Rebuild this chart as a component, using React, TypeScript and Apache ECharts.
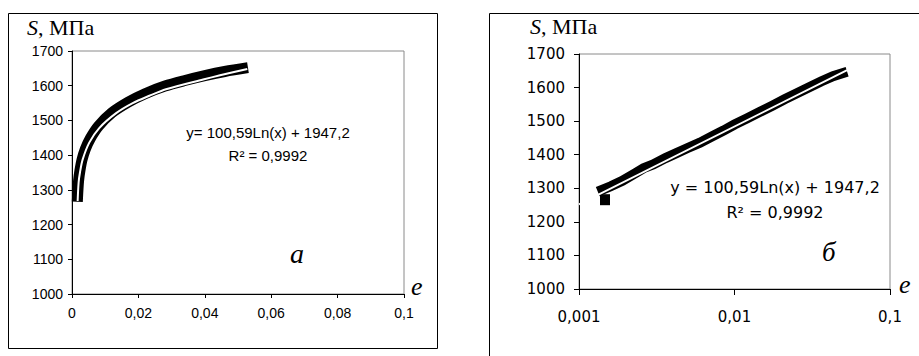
import { useEffect, useRef } from 'react';
import * as echarts from 'echarts';

// ---- data ----
const yMin = 1000;
const yMax = 1700;
const yStep = 100;

const xTicksA = ['0', '0,02', '0,04', '0,06', '0,08', '0,1'];
const xTicksB = ['0,001', '0,01', '0,1'];

// panel а: measured curve (black band)
const strainA = [0.0016, 0.0018, 0.002, 0.0024, 0.003, 0.004, 0.0055, 0.008, 0.012, 0.017, 0.022, 0.028, 0.034, 0.04, 0.046, 0.053];
const stressA = [1266, 1302, 1328, 1356, 1386, 1417, 1448, 1484, 1522, 1553, 1577, 1599, 1615, 1629, 1641, 1652];
// panel а: trend line (white)
const trendStrainA = [0.0017, 0.002, 0.0024, 0.0032, 0.0052, 0.0082, 0.0133, 0.0183, 0.0233, 0.0283, 0.0395, 0.0446, 0.0528];
const trendStressA = [1268, 1322, 1350, 1387, 1436, 1478, 1521, 1550, 1571, 1590, 1618, 1630, 1648];

// panel б: measured curve (black band), log strain axis
const strainB = [0.00132, 0.0016, 0.0019, 0.0023, 0.0026, 0.003, 0.0036, 0.0042, 0.005, 0.006, 0.0072, 0.0085, 0.01, 0.012, 0.0145, 0.0175, 0.021, 0.025, 0.03, 0.036, 0.043, 0.053];
const stressB = [1290, 1306, 1322, 1345, 1360, 1371, 1390, 1404, 1420, 1436, 1455, 1472, 1490, 1508, 1527, 1546, 1565, 1582, 1600, 1618, 1634, 1647];
const outlierStrainB = [0.00147];
const outlierStressB = [1266];
// panel б: trend line (white)
const trendStrainB = [0.001, 0.053];
const trendStressB = [1252, 1652];

const yTitle = 'МПа';
const eqA = 'y= 100,59Ln(x) + 1947,2';
const eqB = 'y = 100,59Ln(x) + 1947,2';
const r2 = 'R² = 0,9992';

const zip = (xs: number[], ys: number[]) => xs.map((x, i) => [x, ys[i]]);

export default function App() {
  const ref = useRef<HTMLDivElement>(null);
  useEffect(() => {
    if (!ref.current) return;
    const chart = echarts.init(ref.current, null, { renderer: 'svg' });
    const sans = 'Liberation Sans';
    const wide = 'DejaVu Sans';
    const serif = 'Liberation Serif';
    const axisBase = (tick: number) => ({
      axisLine: { show: true, onZero: false, lineStyle: { color: '#000', width: 1 } },
      axisTick: { show: true, inside: false, length: tick, lineStyle: { color: '#000', width: 1 } },
      splitLine: { show: false },
      minorTick: { show: false },
      minorSplitLine: { show: false },
    });
    const title = (x: number, y: number) => ({
      type: 'text',
      x,
      y,
      style: {
        text: '{i|S}, ' + yTitle,
        rich: {
          i: { fontStyle: 'italic', fontFamily: serif, fontSize: 22, fill: '#000' },
        },
        fontFamily: serif,
        fontSize: 22,
        fill: '#000',
        align: 'left',
        verticalAlign: 'middle',
      },
    });
    const italic = (t: string, x: number, y: number, size: number) => ({
      type: 'text',
      x,
      y,
      style: { text: t, fontFamily: serif, fontStyle: 'italic', fontSize: size, fill: '#000', align: 'left', verticalAlign: 'middle' },
    });
    const plain = (t: string, x: number, y: number, font: string, size: number) => ({
      type: 'text',
      x,
      y,
      style: { text: t, fontFamily: font, fontSize: size, fill: '#000', align: 'center', verticalAlign: 'middle' },
    });

    chart.setOption({
      animation: false,
      backgroundColor: '#fff',
      grid: [
        { left: 72, top: 51, width: 332, height: 243, show: true, borderColor: '#8a8a8a', borderWidth: 1, backgroundColor: 'transparent', containLabel: false },
        { left: 579, top: 54, width: 311, height: 235, show: true, borderColor: '#8a8a8a', borderWidth: 1, backgroundColor: 'transparent', containLabel: false },
      ],
      xAxis: [
        {
          gridIndex: 0, type: 'value', min: 0, max: 0.1, interval: 0.02,
          ...axisBase(4),
          axisLabel: { color: '#000', fontFamily: sans, fontSize: 14, margin: 12, formatter: (v: number) => xTicksA[Math.round(v / 0.02)] },
        },
        {
          gridIndex: 1, type: 'log', logBase: 10, min: 0.001, max: 0.1,
          ...axisBase(6),
          axisLabel: { color: '#000', fontFamily: wide, fontSize: 15, margin: 20, formatter: (v: number) => xTicksB[Math.round(Math.log10(v)) + 3] },
        },
      ],
      yAxis: [
        {
          gridIndex: 0, type: 'value', min: yMin, max: yMax, interval: yStep, ...axisBase(4),
          axisLabel: { color: '#000', fontFamily: sans, fontSize: 14, margin: 9, formatter: (v: number) => String(v) },
        },
        {
          gridIndex: 1, type: 'value', min: yMin, max: yMax, interval: yStep, ...axisBase(5),
          axisLabel: { color: '#000', fontFamily: wide, fontSize: 15, margin: 14, formatter: (v: number) => String(v) },
        },
      ],
      series: [
        {
          type: 'line', xAxisIndex: 0, yAxisIndex: 0, data: zip(strainA, stressA), symbol: 'none', smooth: 0.3,
          lineStyle: { color: '#000', width: 11, cap: 'butt', join: 'round' }, z: 3,
        },
        {
          type: 'line', xAxisIndex: 0, yAxisIndex: 0, data: zip(trendStrainA, trendStressA), symbol: 'none', smooth: 0.3,
          lineStyle: { color: '#fff', width: 2 }, z: 4,
        },
        {
          type: 'line', xAxisIndex: 1, yAxisIndex: 1, data: zip(strainB, stressB), symbol: 'none',
          lineStyle: { color: '#000', width: 10, cap: 'butt', join: 'miter' }, z: 3,
        },
        {
          type: 'scatter', xAxisIndex: 1, yAxisIndex: 1, data: zip(outlierStrainB, outlierStressB), symbol: 'rect', symbolSize: [10, 11],
          itemStyle: { color: '#000', opacity: 1 }, z: 3,
        },
        {
          type: 'line', xAxisIndex: 1, yAxisIndex: 1, data: zip(trendStrainB, trendStressB), symbol: 'none', clip: false,
          lineStyle: { color: '#fff', width: 2 }, z: 4,
        },
      ],
      graphic: [
        { type: 'rect', shape: { x: 8.5, y: 13.5, width: 429, height: 335 }, style: { fill: 'none', stroke: '#000', lineWidth: 1 } },
        { type: 'rect', shape: { x: 489.5, y: 13.5, width: 500, height: 400 }, style: { fill: 'none', stroke: '#000', lineWidth: 1 } },
        title(27, 27),
        title(530, 26),
        italic('e', 411, 286, 26),
        italic('e', 899, 284, 26),
        italic('а', 290, 253, 28),
        italic('б', 822, 252, 27),
        plain(eqA, 268, 132, sans, 15),
        plain(r2, 268, 155, sans, 15),
        plain(eqB, 775, 187, wide, 16),
        plain(r2, 775, 212, wide, 16),
      ],
    });
    return () => chart.dispose();
  }, []);
  return <div ref={ref} style={{ position: 'fixed', left: 0, top: 0, width: 919, height: 356 }} />;
}
